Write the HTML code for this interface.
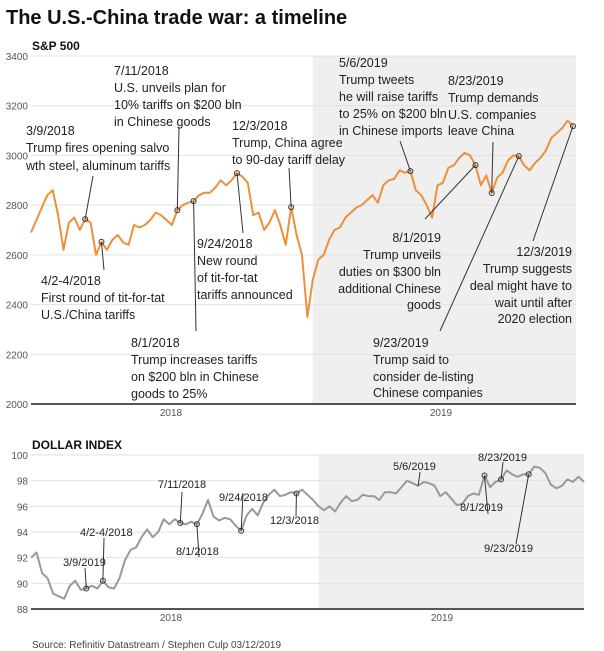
<!DOCTYPE html>
<html><head><meta charset="utf-8"><style>
body{margin:0;background:#fff;}
svg{display:block;font-family:"Liberation Sans",Arial,sans-serif;}
.ann{font-size:12.5px;fill:#222;}
.tick{font-size:10px;fill:#555;}
.grid{stroke:#e2e2e2;stroke-width:1;}
.lead{stroke:#333;stroke-width:1;fill:none;}
</style></head><body>
<svg id="chart" width="604" height="651" viewBox="0 0 604 651">
<text x="6" y="24" font-size="20" font-weight="bold" fill="#111">The U.S.-China trade war: a timeline</text>
<text x="32" y="50" font-size="12" font-weight="bold" fill="#111">S&amp;P 500</text>
<g id="topg"></g>
<g id="botg"></g>
<text x="32" y="449" font-size="12" font-weight="bold" fill="#111">DOLLAR INDEX</text>
<text x="32" y="648" font-size="10" fill="#444">Source: Refinitiv Datastream / Stephen Culp 03/12/2019</text>
<g class="ann">
<text x="26" y="135">3/9/2018</text><text x="26" y="152">Trump fires opening salvo</text><text x="26" y="170">wth steel, aluminum tariffs</text>
<text x="114" y="75">7/11/2018</text><text x="114" y="92">U.S. unveils plan for</text><text x="114" y="109">10% tariffs on $200 bln</text><text x="114" y="126">in Chinese goods</text>
<text x="232" y="130">12/3/2018</text><text x="232" y="147">Trump, China agree</text><text x="232" y="164">to 90-day tariff delay</text>
<text x="41" y="285">4/2-4/2018</text><text x="41" y="302">First round of tit-for-tat</text><text x="41" y="319">U.S./China tariffs</text>
<text x="197" y="248">9/24/2018</text><text x="197" y="265">New round</text><text x="197" y="282">of tit-for-tat</text><text x="197" y="299">tariffs announced</text>
<text x="131" y="347">8/1/2018</text><text x="131" y="364">Trump increases tariffs</text><text x="131" y="381">on $200 bln in Chinese</text><text x="131" y="398">goods to 25%</text>
<text x="339" y="67">5/6/2019</text><text x="339" y="84">Trump tweets</text><text x="339" y="101">he will raise tariffs</text><text x="339" y="118">to 25% on $200 bln</text><text x="339" y="135">in Chinese imports</text>
<text x="448" y="85">8/23/2019</text><text x="448" y="102">Trump demands</text><text x="448" y="119">U.S. companies</text><text x="448" y="135">leave China</text>
<g text-anchor="end"><text x="441" y="242">8/1/2019</text><text x="441" y="259">Trump unveils</text><text x="441" y="276">duties on $300 bln</text><text x="441" y="293">additional Chinese</text><text x="441" y="309">goods</text>
<text x="572" y="256">12/3/2019</text><text x="572" y="273">Trump suggests</text><text x="572" y="290">deal might have to</text><text x="572" y="307">wait until after</text><text x="572" y="323">2020 election</text></g>
<text x="373" y="347">9/23/2019</text><text x="373" y="364">Trump said to</text><text x="373" y="381">consider de-listing</text><text x="373" y="397">Chinese companies</text>
</g>
<g class="ann" style="font-size:11px">
<text x="63" y="566">3/9/2019</text><text x="80" y="536">4/2-4/2018</text><text x="158" y="488">7/11/2018</text><text x="176" y="555">8/1/2018</text>
<text x="219" y="501">9/24/2018</text><text x="270" y="524">12/3/2018</text><text x="393" y="470">5/6/2019</text><text x="460" y="511">8/1/2019</text>
<text x="478" y="461">8/23/2019</text><text x="484" y="552">9/23/2019</text>
</g>
</svg>
<script>
const spValues=[2690,2740,2790,2840,2860,2760,2620,2730,2750,2700,2744,2730,2600,2652,2620,2660,2680,2650,2640,2720,2710,2720,2740,2770,2760,2740,2720,2780,2800,2810,2816,2840,2850,2850,2870,2900,2880,2900,2929,2915,2890,2760,2770,2700,2730,2780,2720,2640,2792,2680,2600,2350,2500,2580,2600,2660,2700,2710,2750,2770,2790,2800,2820,2840,2810,2880,2900,2905,2940,2930,2937,2860,2840,2800,2750,2880,2890,2950,2960,2990,3010,3000,2961,2880,2920,2849,2910,2930,2980,3000,2997,2960,2940,2970,2990,3020,3070,3090,3110,3140,3118];
const spTicks=[2000,2200,2400,2600,2800,3000,3200,3400];
const spMarkers=[10,13,27,30,38,48,70,82,85,90,100];
const dxValues=[92.0,92.4,90.8,90.4,89.2,89.0,88.8,89.8,90.2,89.5,89.6,89.8,89.6,90.2,89.7,89.6,90.4,91.8,92.6,92.8,93.6,94.2,93.6,94.0,95.0,94.6,95.0,94.7,94.6,94.8,94.6,95.4,96.5,95.2,94.9,95.1,95.0,94.5,94.1,95.3,95.8,95.3,96.3,96.9,97.3,96.8,96.9,97.1,97.0,97.3,96.9,96.5,96.0,95.7,96.0,95.6,96.3,96.8,96.4,96.5,96.9,96.8,96.8,96.5,97.1,97.1,97.0,97.5,98.0,97.8,97.6,97.9,97.8,97.6,96.8,97.1,96.6,96.1,96.2,96.8,97.0,96.9,98.4,97.5,97.9,98.1,98.8,98.5,98.3,98.5,98.5,99.1,99.0,98.6,97.7,97.4,97.6,98.1,97.9,98.3,97.9];
const dxTicks=[88,90,92,94,96,98,100];
const dxMarkers=[10,13,27,30,38,48,82,85,90];
const yearLabels=["2018","2019"];
const NS="http://www.w3.org/2000/svg";
function mk(p,t,a){const e=document.createElementNS(NS,t);for(const k in a)e.setAttribute(k,a[k]);p.appendChild(e);return e;}
function draw(g,vals,ticks,markers,cfg){
  const xs=i=>cfg.x0+i*(cfg.x1-cfg.x0)/(vals.length-1);
  const xShade=cfg.x0+52*(cfg.x1-cfg.x0)/(vals.length-1);
  const ys=v=>cfg.yb-(v-ticks[0])*(cfg.yb-cfg.yt)/(ticks[ticks.length-1]-ticks[0]);
  const sh=mk(g,'rect',{x:xShade,y:cfg.yt,width:cfg.xr-xShade,height:cfg.yb-cfg.yt,fill:'#efefef'});
  
  
  ticks.forEach((t,i)=>{
    const y=ys(t);
    if(i>0){const l=mk(g,'line',{x1:cfg.x0,x2:cfg.xr,y1:y,y2:y,class:'grid'});
      
      }
    const tx=mk(g,'text',{x:cfg.x0-3,y:y+4,'text-anchor':'end',class:'tick'});tx.textContent=t;
    
    
  });
  const ax=mk(g,'line',{x1:cfg.x0,x2:cfg.xr,y1:cfg.yb,y2:cfg.yb,stroke:'#555','stroke-width':2});
  
  
  yearLabels.forEach((yl,i)=>{
    const t=mk(g,'text',{x:[cfg.l18,cfg.l19][i],y:cfg.yb+12,'text-anchor':'middle',class:'tick'});t.textContent=yl;
    
    
  });
  const d=vals.map((v,i)=>(i?'L':'M')+xs(i).toFixed(1)+' '+ys(v).toFixed(1)).join(' ');
  const p=mk(g,'path',{d:d,fill:'none',stroke:cfg.color,'stroke-width':2,'stroke-linejoin':'round'});
  
  
  markers.forEach(i=>{
    const c=mk(g,'circle',{cx:xs(i),cy:ys(vals[i]),r:2.5,fill:'none',stroke:'#333','stroke-width':1});
    
    
  });
  return {xs,ys};
}
const topC=draw(document.getElementById('topg'),spValues,spTicks,spMarkers,{x0:31,x1:573,xr:576,yt:56,yb:404,color:'#ee8f3a',l18:171,l19:441});
const botC=draw(document.getElementById('botg'),dxValues,dxTicks,dxMarkers,{x0:31,x1:584,xr:584,yt:455,yb:609,color:'#999',l18:171,l19:442});
const topLeads=[[93,176,10],[104,270,13],[179,128,27],[196,331,30],[243,233,38],[289,168,48],[400,141,70],[425,219,82],[493,142,85],[440,331,90],[533,241,100]];
const tg=document.getElementById('topg');
topLeads.forEach(a=>{const l=mk(tg,'line',{x1:a[0],y1:a[1],x2:topC.xs(a[2]),y2:topC.ys(spValues[a[2]]),class:'lead'});
  
  });
const botLeads=[[85,568,10],[104,538,13],[182,492,27],[199,557,30],[243,494,38],[296,516,48],[420,472,70],[488,514,82],[503,462,85],[516,544,90]];
const bg=document.getElementById('botg');
botLeads.forEach(a=>{const l=mk(bg,'line',{x1:a[0],y1:a[1],x2:botC.xs(a[2]),y2:botC.ys(dxValues[a[2]]),class:'lead'});
  
  });
</script>
</body></html>
